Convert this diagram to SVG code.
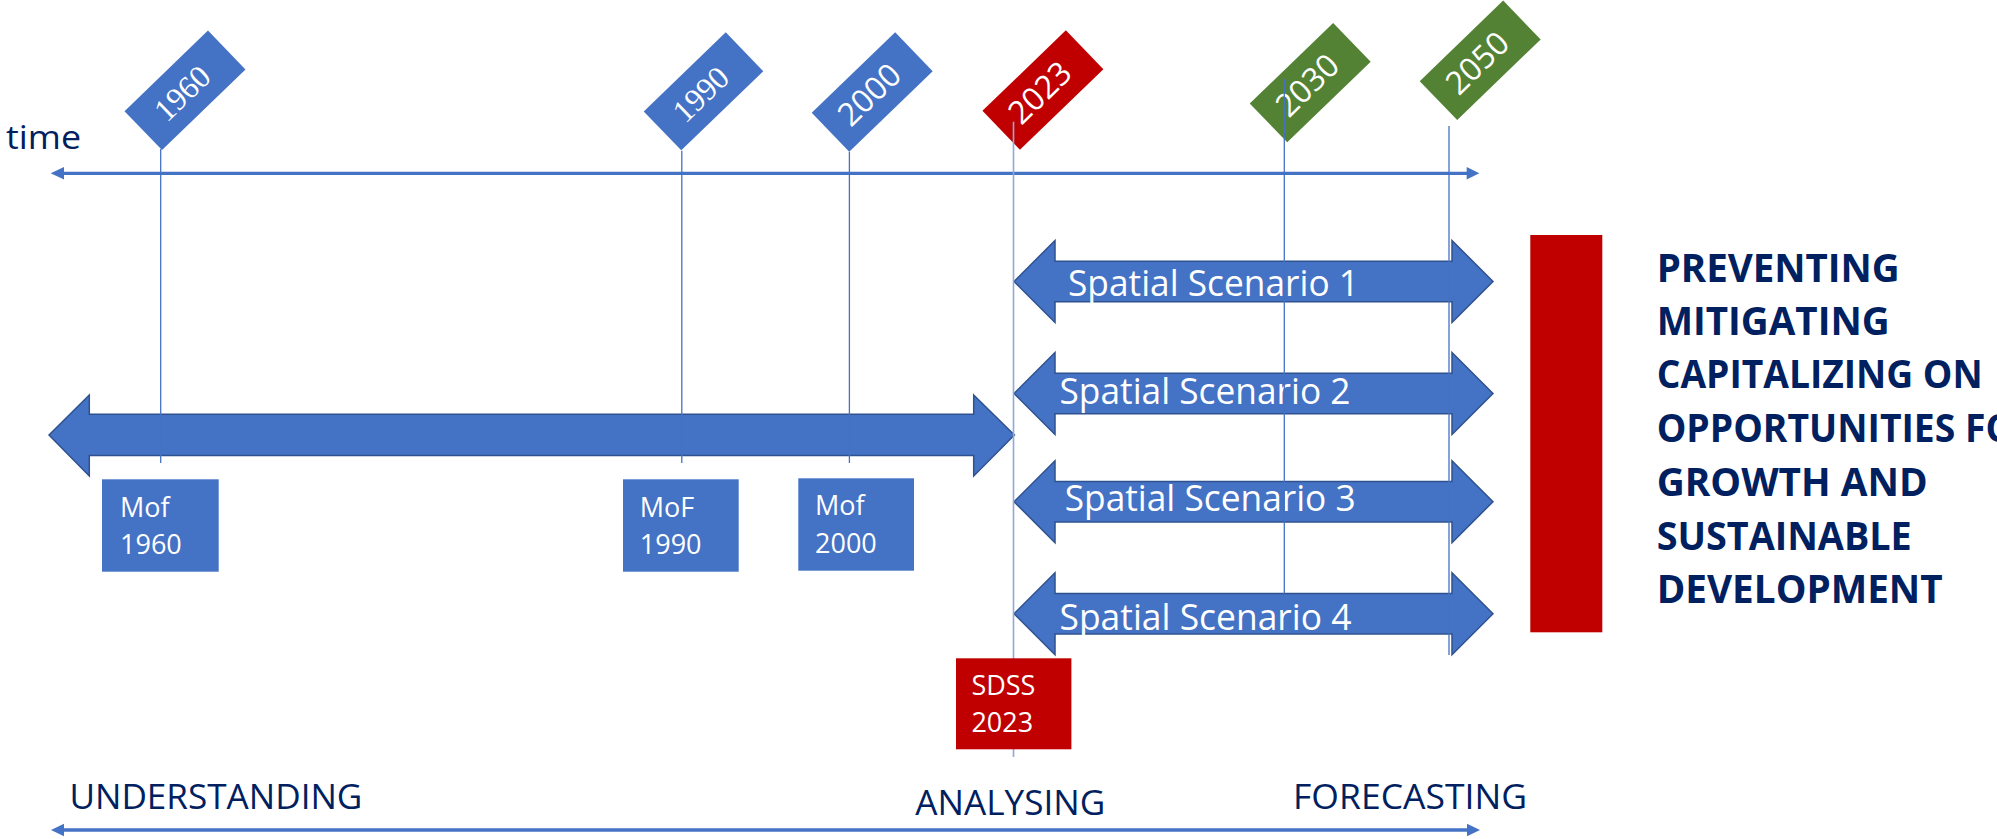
<svg xmlns="http://www.w3.org/2000/svg" width="1997" height="839" viewBox="0 0 1997 839">
<style>
.arrow{fill:#4472C4;stroke:#2F528F;stroke-width:1.5;stroke-linejoin:miter}
.tick{stroke:#4472C4;stroke-width:1.3;fill:none}
.tick2{stroke:#8EA9DB;stroke-width:1.6;fill:none}
.axis{stroke:#4472C4;stroke-width:3.3;fill:none}
.head{fill:#4472C4}
.sans{font-family:"Open Sans","Liberation Sans",sans-serif}
.serif{font-family:"Liberation Serif","DejaVu Serif",serif}
.w{fill:#ffffff}
.nav{fill:#002060}
.diam{font-size:32px;text-anchor:middle}
.box{font-size:27px}
.scn{font-size:36px}
.goal{font-size:40px;font-weight:bold}
.phase{font-size:35px}
</style>
<rect width="1997" height="839" fill="#ffffff"/>

<g id="time-label"><text class="sans nav" x="6" y="149" font-size="32" textLength="75" lengthAdjust="spacingAndGlyphs">time</text></g>

<g id="understanding-arrow">
<path class="arrow" d="M49,435 L89.3,395 L89.3,414.3 L973.7,414.3 L973.7,395 L1014.4,435 L973.7,476 L973.7,455.5 L89.3,455.5 L89.3,476 Z"/>
</g>

<g id="scenario-1">
<path class="arrow" d="M1014,281.5 L1055,240.5 L1055,261.3 L1452,261.3 L1452,240.5 L1493,281.5 L1452,322.5 L1452,301.8 L1055,301.8 L1055,322.5 Z"/>
<text class="sans w scn" x="1068" y="296" textLength="291" lengthAdjust="spacingAndGlyphs">Spatial Scenario 1</text>
</g>
<g id="scenario-2">
<path class="arrow" d="M1014,393.5 L1055,352.5 L1055,373.3 L1452,373.3 L1452,352.5 L1493,393.5 L1452,434.5 L1452,413.8 L1055,413.8 L1055,434.5 Z"/>
<text class="sans w scn" x="1059.5" y="403.5" textLength="291" lengthAdjust="spacingAndGlyphs">Spatial Scenario 2</text>
</g>
<g id="scenario-3">
<path class="arrow" d="M1014,501.7 L1055,460.7 L1055,481.5 L1452,481.5 L1452,460.7 L1493,501.7 L1452,542.7 L1452,522 L1055,522 L1055,542.7 Z"/>
<text class="sans w scn" x="1064.7" y="511" textLength="291" lengthAdjust="spacingAndGlyphs">Spatial Scenario 3</text>
</g>
<g id="scenario-4">
<path class="arrow" d="M1014,613.7 L1055,572.7 L1055,593.5 L1452,593.5 L1452,572.7 L1493,613.7 L1452,654.7 L1452,634 L1055,634 L1055,654.7 Z"/>
<text class="sans w scn" x="1059.5" y="630" textLength="292" lengthAdjust="spacingAndGlyphs">Spatial Scenario 4</text>
</g>

<g id="year-1960" transform="translate(185,90.3) rotate(-44)">
<rect x="-58" y="-27" width="116" height="54" fill="#4472C4"/>
<text class="serif w diam" x="-4" y="11">1960</text>
</g>
<g id="year-1990" transform="translate(703.5,91.3) rotate(-44)">
<rect x="-57" y="-27" width="114" height="54" fill="#4472C4"/>
<text class="serif w diam" x="-4" y="11">1990</text>
</g>
<g id="year-2000" transform="translate(872.2,92) rotate(-44)">
<rect x="-58" y="-27" width="116" height="54" fill="#4472C4"/>
<text class="sans w diam" x="-4" y="11">2000</text>
</g>
<g id="year-2023" transform="translate(1042.9,90) rotate(-44)">
<rect x="-58" y="-27" width="116" height="54" fill="#C00000"/>
<text class="sans w diam" x="-4" y="11">2023</text>
</g>
<g id="year-2030" transform="translate(1310.2,82.6) rotate(-44)">
<rect x="-58" y="-27" width="116" height="54" fill="#548235"/>
<text class="sans w diam" x="-4" y="11">2030</text>
</g>
<g id="year-2050" transform="translate(1480.2,60.3) rotate(-44)">
<rect x="-58" y="-27" width="116" height="54" fill="#548235"/>
<text class="sans w diam" x="-4" y="11">2050</text>
</g>

<g id="connectors">
<line class="axis" x1="62" y1="173.3" x2="1468" y2="173.3"/>
<polygon class="head" points="50.7,173.3 64,167 64,179.6"/>
<polygon class="head" points="1479.3,173.3 1466.7,167 1466.7,179.6"/>
<line class="tick" x1="160.7" y1="149" x2="160.7" y2="463"/>
<line class="tick" x1="681.8" y1="150.7" x2="681.8" y2="463"/>
<line class="tick" x1="849.4" y1="151.7" x2="849.4" y2="463"/>
<line class="tick2" x1="1013.5" y1="121.7" x2="1013.5" y2="757"/>
<line class="tick" x1="1284.3" y1="79" x2="1284.3" y2="593.5"/>
<line class="tick" x1="1449" y1="126" x2="1449" y2="655"/>
<line class="axis" x1="62" y1="830" x2="1469" y2="830"/>
<polygon class="head" points="51,830 64,823.7 64,836.3"/>
<polygon class="head" points="1480,830 1467,823.7 1467,836.3"/>
</g>

<g id="mof-1960">
<rect x="102" y="479.3" width="116.7" height="92.4" fill="#4472C4"/>
<text class="sans w box" x="120" y="516.7">Mof</text>
<text class="sans w box" x="120" y="554.3">1960</text>
</g>
<g id="mof-1990">
<rect x="623" y="479.3" width="115.7" height="92.4" fill="#4472C4"/>
<text class="sans w box" x="639.8" y="516.7">MoF</text>
<text class="sans w box" x="639.8" y="554.3">1990</text>
</g>
<g id="mof-2000">
<rect x="798.3" y="478.3" width="115.7" height="92.4" fill="#4472C4"/>
<text class="sans w box" x="815" y="515">Mof</text>
<text class="sans w box" x="815" y="552.7">2000</text>
</g>
<g id="sdss-2023">
<rect x="956" y="658.3" width="115.4" height="91" fill="#C00000"/>
<text class="sans w box" x="971.4" y="695">SDSS</text>
<text class="sans w box" x="971.4" y="732">2023</text>
</g>

<g id="goal-bar"><rect x="1530.3" y="235" width="72" height="397.3" fill="#C00000"/></g>
<g id="goals">
<text class="sans nav goal" x="1656.7" y="281.7" textLength="243" lengthAdjust="spacingAndGlyphs">PREVENTING</text>
<text class="sans nav goal" x="1656.7" y="335" textLength="233" lengthAdjust="spacingAndGlyphs">MITIGATING</text>
<text class="sans nav goal" x="1656.7" y="388.3" textLength="326" lengthAdjust="spacingAndGlyphs">CAPITALIZING ON</text>
<text class="sans nav goal" x="1656.7" y="442.3" textLength="383" lengthAdjust="spacingAndGlyphs">OPPORTUNITIES FOR</text>
<text class="sans nav goal" x="1656.7" y="496" textLength="271" lengthAdjust="spacingAndGlyphs">GROWTH AND</text>
<text class="sans nav goal" x="1656.7" y="550" textLength="255" lengthAdjust="spacingAndGlyphs">SUSTAINABLE</text>
<text class="sans nav goal" x="1656.7" y="603.3" textLength="286" lengthAdjust="spacingAndGlyphs">DEVELOPMENT</text>
</g>

<g id="phases">
<text class="sans nav phase" x="69.4" y="809" textLength="293" lengthAdjust="spacingAndGlyphs">UNDERSTANDING</text>
<text class="sans nav phase" x="915.3" y="815" textLength="190" lengthAdjust="spacingAndGlyphs">ANALYSING</text>
<text class="sans nav phase" x="1293" y="809" textLength="234" lengthAdjust="spacingAndGlyphs">FORECASTING</text>
</g>
</svg>
